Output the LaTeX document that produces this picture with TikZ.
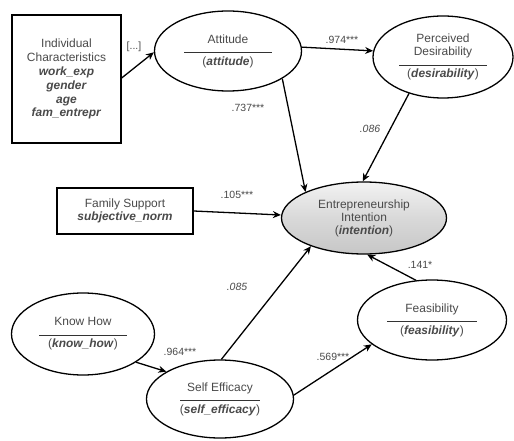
\documentclass[tikz,border=0pt]{standalone}
\usepackage{fontspec}
\setmainfont{Liberation Sans}
\usetikzlibrary{shapes.geometric,arrows.meta}
\definecolor{txt}{HTML}{4A4A4A}
\newcommand{\vb}[1]{\textbf{\textit{#1}}}
\newcommand{\lat}[3]{#1\\[-3pt]{\color{black!80}\rule{#3}{1pt}}\\[-1pt](\vb{#2})}
\begin{document}
\begin{tikzpicture}[x=1bp,y=-1bp,
  every node/.style={font=\fontsize{12}{13}\selectfont,text=txt},
  lv/.style={ellipse,draw=black,line width=1.3pt,inner sep=0pt,align=center,fill=white},
  box/.style={rectangle,draw=black,line width=1.3pt,inner sep=0pt,align=center},
  arr/.style={-{Stealth[length=8pt,width=7pt]},line width=1.3pt,black},
  lab/.style={font=\fontsize{10.5}{11}\selectfont},
  ns/.style={font=\fontsize{10.5}{11}\selectfont\itshape}]
\useasboundingbox (0,0) rectangle (514,441);
\fill[white] (0,0) rectangle (514,441);

\node[box,minimum width=109bp,minimum height=128bp,font=\fontsize{12}{14}\selectfont] (ic) at (66.5,79)
  {Individual\\Characteristics\\\vb{work\_exp}\\\vb{gender}\\\vb{age}\\\vb{fam\_entrepr}};
\node[box,minimum width=136bp,minimum height=46bp] (fs) at (125,211)
  {Family Support\\\vb{subjective\_norm}};

\node[lv,minimum width=147bp,minimum height=80bp] (att) at (228,51)
  {\lat{Attitude}{attitude}{88bp}};
\node[lv,minimum width=140bp,minimum height=82bp] (des) at (443,57)
  {Perceived\\Desirability\\[-3pt]{\color{black!80}\rule{88bp}{1pt}}\\[-1pt](\vb{desirability})};
\node[lv,minimum width=165bp,minimum height=72bp,top color=black!5,bottom color=black!22,middle color=black!15] (int) at (364,218)
  {Entrepreneurship\\Intention\\(\vb{intention})};
\node[lv,minimum width=143bp,minimum height=82bp] (kh) at (83,334)
  {\lat{Know How}{know\_how}{88bp}};
\node[lv,minimum width=147bp,minimum height=78bp] (se) at (220,399)
  {\lat{Self Efficacy}{self\_efficacy}{80bp}};
\node[lv,minimum width=149bp,minimum height=80bp] (fe) at (432,320)
  {\lat{Feasibility}{feasibility}{90bp}};

\draw[arr] (ic.east |- 0,78) -- (att.181);
\draw[arr] (att.3) -- (des.175);
\draw[arr] (att.-27) -- (int.156);
\draw[arr] (des.-133) -- (int.92);
\draw[arr] (fs.east) -- (int.west |- 0,215);
\draw[arr] (se.88) -- (int.-152);
\draw[arr] (fe.112) -- (int.-85);
\draw[arr] (kh.-28) -- (se.153);
\draw[arr] (se.3) -- (fe.-158);

\node[lab] (l1) at (134,47) {[...]};
\node[lab] (l2) at (342,40) {.974***};
\node[lab] (l3) at (248,108) {.737***};
\node[ns] (l4) at (370,129) {.086};
\node[lab] (l5) at (237,195) {.105***};
\node[ns] (l6) at (237,287) {.085};
\node[lab] (l7) at (420,265) {.141*};
\node[lab] (l8) at (180,352) {.964***};
\node[lab] (l9) at (333,357) {.569***};
\end{tikzpicture}
\end{document}
